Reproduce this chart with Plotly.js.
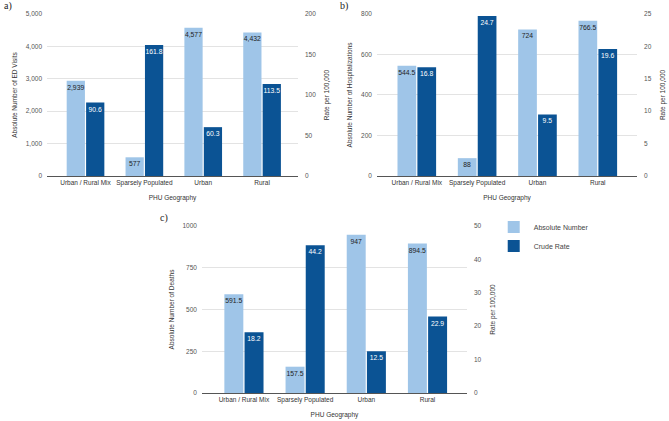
<!DOCTYPE html>
<html>
<head>
<meta charset="utf-8">
<script src="https://cdn.plot.ly/plotly-3.0.1.min.js"></script>
<style>html,body{margin:0;padding:0;background:#fff;}#chart{width:669px;height:421px;}</style>
</head>
<body>
<div id="chart"></div>
<script>
// PHU geography categories shared by all three panels
const categories = ["Urban / Rural Mix", "Sparsely Populated", "Urban", "Rural"];

// a) ED visits
const edAbsolute = [2939, 577, 4577, 4432];
const edRate = [90.6, 161.8, 60.3, 113.5];

// b) Hospitalizations
const hospAbsolute = [544.5, 88, 724, 766.5];
const hospRate = [16.8, 24.7, 9.5, 19.6];

// c) Deaths
const deathAbsolute = [591.5, 157.5, 947, 894.5];
const deathRate = [18.2, 44.2, 12.5, 22.9];

const seriesNames = ["Absolute Number", "Crude Rate"];
const panelLabels = ["a)", "b)", "c)"];

const LIGHT = "#9fc5e8";
const DARK = "#0b5394";
const FONT = "Liberation Sans, Arial, sans-serif";
const FS = 6.5;
const xIdx = categories.map((_, i) => i);

function pair(xa, yaL, yaR, abs, rate, absFmt, showLegend) {
  const common = {
    type: "bar", x: xIdx, width: 0.31, textposition: "inside",
    insidetextanchor: "end", textangle: 0, constraintext: "none",
    cliponaxis: false, hoverinfo: "skip"
  };
  return [
    Object.assign({}, common, {
      name: seriesNames[0], y: abs, xaxis: xa, yaxis: yaL, offset: -0.32,
      marker: {color: LIGHT}, texttemplate: absFmt,
      textfont: {family: FONT, size: FS + 0.3, color: "#222"},
      showlegend: showLegend
    }),
    Object.assign({}, common, {
      name: seriesNames[1], y: rate, xaxis: xa, yaxis: yaR, offset: 0.01,
      marker: {color: DARK}, texttemplate: "%{y}",
      textfont: {family: FONT, size: FS + 0.3, color: "#fff"},
      showlegend: showLegend
    })
  ];
}

const data = [].concat(
  pair("x", "y", "y2", edAbsolute, edRate, "%{y:,}", false),
  pair("x2", "y3", "y4", hospAbsolute, hospRate, "%{y}", false),
  pair("x3", "y5", "y6", deathAbsolute, deathRate, "%{y}", true)
);

const tickFont = {family: FONT, size: FS, color: "#555"};
const titleFont = {family: FONT, size: FS, color: "#333"};

function xAxis(domain, anchor, range) {
  return {
    domain: domain, anchor: anchor, range: range,
    tickmode: "array", tickvals: xIdx, ticktext: categories, tickangle: 0,
    tickfont: {family: FONT, size: FS, color: "#333"},
    showgrid: false, zeroline: false, showline: true,
    linecolor: "#555", linewidth: 1, ticks: "", automargin: false,
    title: {text: "PHU Geography", font: titleFont, standoff: 9},
    fixedrange: true
  };
}
function yLeft(domain, anchor, range, dtick, fmt, title) {
  return {
    domain: domain, anchor: anchor, range: range, dtick: dtick,
    tickformat: fmt, tickfont: tickFont, showgrid: true,
    gridcolor: "#e3e3e3", gridwidth: 1, zeroline: false, showline: false,
    ticks: "", ticklabelstandoff: 4, automargin: false,
    title: {text: title, font: titleFont, standoff: 7}, fixedrange: true
  };
}
function yRight(overlay, anchor, range, dtick) {
  return {
    overlaying: overlay, anchor: anchor, side: "right", range: range,
    dtick: dtick, tickfont: tickFont, showgrid: false, zeroline: false,
    showline: false, ticks: "", ticklabelstandoff: 6, automargin: false,
    title: {text: "Rate per 100,000", font: titleFont, standoff: 9},
    fixedrange: true
  };
}

const layout = {
  width: 669, height: 421,
  margin: {l: 0, r: 0, t: 0, b: 0},
  paper_bgcolor: "#fff", plot_bgcolor: "#fff",
  font: {family: FONT, color: "#333"},
  bargap: 0.37,
  xaxis: xAxis([0.0703, 0.4454], "y", [-0.654, 3.61]),
  yaxis: yLeft([0.582, 0.9667], "x", [0, 5000], 1000, ",", "Absolute Number of ED Visits"),
  yaxis2: yRight("y", "x", [0, 200], 50),
  xaxis2: xAxis([0.5635, 0.9522], "y3", [-0.66, 3.65]),
  yaxis3: yLeft([0.582, 0.9667], "x2", [0, 800], 200, "", "Absolute Number of Hospitalizations"),
  yaxis4: yRight("y3", "x2", [0, 25], 5),
  xaxis3: xAxis([0.3019, 0.698], "y5", [-0.686, 3.645]),
  yaxis5: yLeft([0.0665, 0.4632], "x3", [0, 1000], 250, "", "Absolute Number of Deaths"),
  yaxis6: yRight("y5", "x3", [0, 50], 10),
  showlegend: true,
  legend: {
    x: 0.738, y: 0.495, xanchor: "left", yanchor: "top",
    font: {family: FONT, size: FS + 0.5, color: "#444"},
    bgcolor: "rgba(0,0,0,0)", itemwidth: 30, tracegroupgap: 0
  },
  annotations: [
    {text: panelLabels[0], x: 2 / 669, y: 1 - 6 / 421},
    {text: panelLabels[1], x: 338 / 669, y: 1 - 6 / 421},
    {text: panelLabels[2], x: 158 / 669, y: 1 - 218 / 421}
  ].map(a => Object.assign({
    xref: "paper", yref: "paper", xanchor: "left", yanchor: "middle",
    showarrow: false, font: {family: "Liberation Serif, Times New Roman, serif", size: 10, color: "#222"}
  }, a))
};

Plotly.newPlot("chart", data, layout, {displayModeBar: false, staticPlot: true});
</script>
</body>
</html>
